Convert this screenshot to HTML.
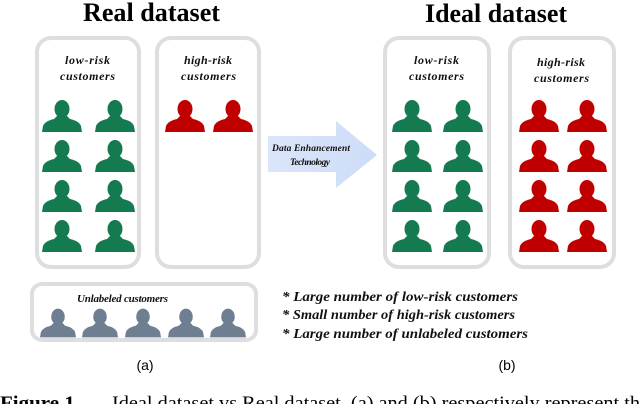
<!DOCTYPE html>
<html><head><meta charset="utf-8"><style>
body{margin:0;background:#fff;width:640px;height:404px;overflow:hidden}
svg{display:block}
.t{font-family:"Liberation Serif",serif;font-weight:bold;font-style:italic;fill:#111}
</style></head><body>
<svg width="640" height="404" viewBox="0 0 640 404">
<defs>
<symbol id="p" viewBox="0 0 40 32"><ellipse cx="20" cy="9" rx="7.5" ry="9"/><path d="M0 32 L1 26 Q3 21 12 19 L15 16 L25 16 L28 19 Q37 21 39 26 L40 32 Z"/></symbol>
<linearGradient id="g" x1="0" x2="1"><stop offset="0" stop-color="#dbe5fa"/><stop offset="1" stop-color="#cddcf7"/></linearGradient>
</defs>
<text x="83" y="21" textLength="137" lengthAdjust="spacingAndGlyphs" font-family="Liberation Serif,serif" font-weight="bold" font-size="26">Real dataset</text>
<text x="425" y="22" textLength="142" lengthAdjust="spacingAndGlyphs" font-family="Liberation Serif,serif" font-weight="bold" font-size="26">Ideal dataset</text>
<g fill="none" stroke="#dedede" stroke-width="4">
<rect x="37" y="38" width="102" height="229" rx="14"/>
<rect x="157" y="38" width="102" height="229" rx="14"/>
<rect x="385" y="38" width="104" height="229" rx="14"/>
<rect x="510" y="38" width="104" height="229" rx="14"/>
<rect x="32" y="284" width="224" height="56" rx="10"/>
</g>
<g class="t" font-size="12">
<text x="65" y="64" textLength="45">low-risk</text><text x="60" y="80" textLength="55">customers</text>
<text x="184" y="64" textLength="48">high-risk</text><text x="181" y="80" textLength="55">customers</text>
<text x="414" y="64" textLength="45">low-risk</text><text x="409" y="80" textLength="55">customers</text>
<text x="537" y="66" textLength="48">high-risk</text><text x="534" y="82" textLength="55">customers</text>
<text x="77" y="302" font-size="11" textLength="91">Unlabeled customers</text>
</g>
<g fill="#147a4f">
<use href="#p" x="42" y="100" width="40" height="32"/><use href="#p" x="95" y="100" width="40" height="32"/>
<use href="#p" x="42" y="140" width="40" height="32"/><use href="#p" x="95" y="140" width="40" height="32"/>
<use href="#p" x="42" y="180" width="40" height="32"/><use href="#p" x="95" y="180" width="40" height="32"/>
<use href="#p" x="42" y="220" width="40" height="32"/><use href="#p" x="95" y="220" width="40" height="32"/>
<use href="#p" x="392" y="100" width="40" height="32"/><use href="#p" x="443" y="100" width="40" height="32"/>
<use href="#p" x="392" y="140" width="40" height="32"/><use href="#p" x="443" y="140" width="40" height="32"/>
<use href="#p" x="392" y="180" width="40" height="32"/><use href="#p" x="443" y="180" width="40" height="32"/>
<use href="#p" x="392" y="220" width="40" height="32"/><use href="#p" x="443" y="220" width="40" height="32"/>
</g>
<g fill="#c00000">
<use href="#p" x="165" y="100" width="40" height="32"/><use href="#p" x="213" y="100" width="40" height="32"/>
<use href="#p" x="519" y="100" width="40" height="32"/><use href="#p" x="567" y="100" width="40" height="32"/>
<use href="#p" x="519" y="140" width="40" height="32"/><use href="#p" x="567" y="140" width="40" height="32"/>
<use href="#p" x="519" y="180" width="40" height="32"/><use href="#p" x="567" y="180" width="40" height="32"/>
<use href="#p" x="519" y="220" width="40" height="32"/><use href="#p" x="567" y="220" width="40" height="32"/>
</g>
<g fill="#6f7f92">
<use href="#p" x="40" y="308" width="36" height="30"/><use href="#p" x="82" y="308" width="36" height="30"/>
<use href="#p" x="125" y="308" width="36" height="30"/><use href="#p" x="168" y="308" width="36" height="30"/>
<use href="#p" x="210" y="308" width="36" height="30"/>
</g>
<path d="M268 136 L336 136 L336 121 L377 155 L336 188 L336 172 L268 172 Z" fill="url(#g)"/>
<g class="t" font-size="9.5">
<text x="272" y="151" textLength="78">Data Enhancement</text><text x="290" y="165" textLength="40">Technology</text>
</g>
<g class="t" font-size="13.5">
<text x="282" y="301" textLength="236" lengthAdjust="spacingAndGlyphs">* Large number of low-risk customers</text>
<text x="282" y="319" textLength="233" lengthAdjust="spacingAndGlyphs">* Small number of high-risk customers</text>
<text x="282" y="338" textLength="246" lengthAdjust="spacingAndGlyphs">* Large number of unlabeled customers</text>
</g>
<text x="145" y="370" text-anchor="middle" font-family="Liberation Sans,sans-serif" font-size="14">(a)</text>
<text x="507" y="370" text-anchor="middle" font-family="Liberation Sans,sans-serif" font-size="14">(b)</text>
<text x="0" y="409" font-family="Liberation Serif,serif" font-size="19" font-weight="bold" textLength="80" lengthAdjust="spacingAndGlyphs">Figure 1.</text>
<text x="112" y="409" font-family="Liberation Serif,serif" font-size="19" textLength="528" lengthAdjust="spacingAndGlyphs">Ideal dataset vs Real dataset. (a) and (b) respectively represent th</text>
</svg>
</body></html>
